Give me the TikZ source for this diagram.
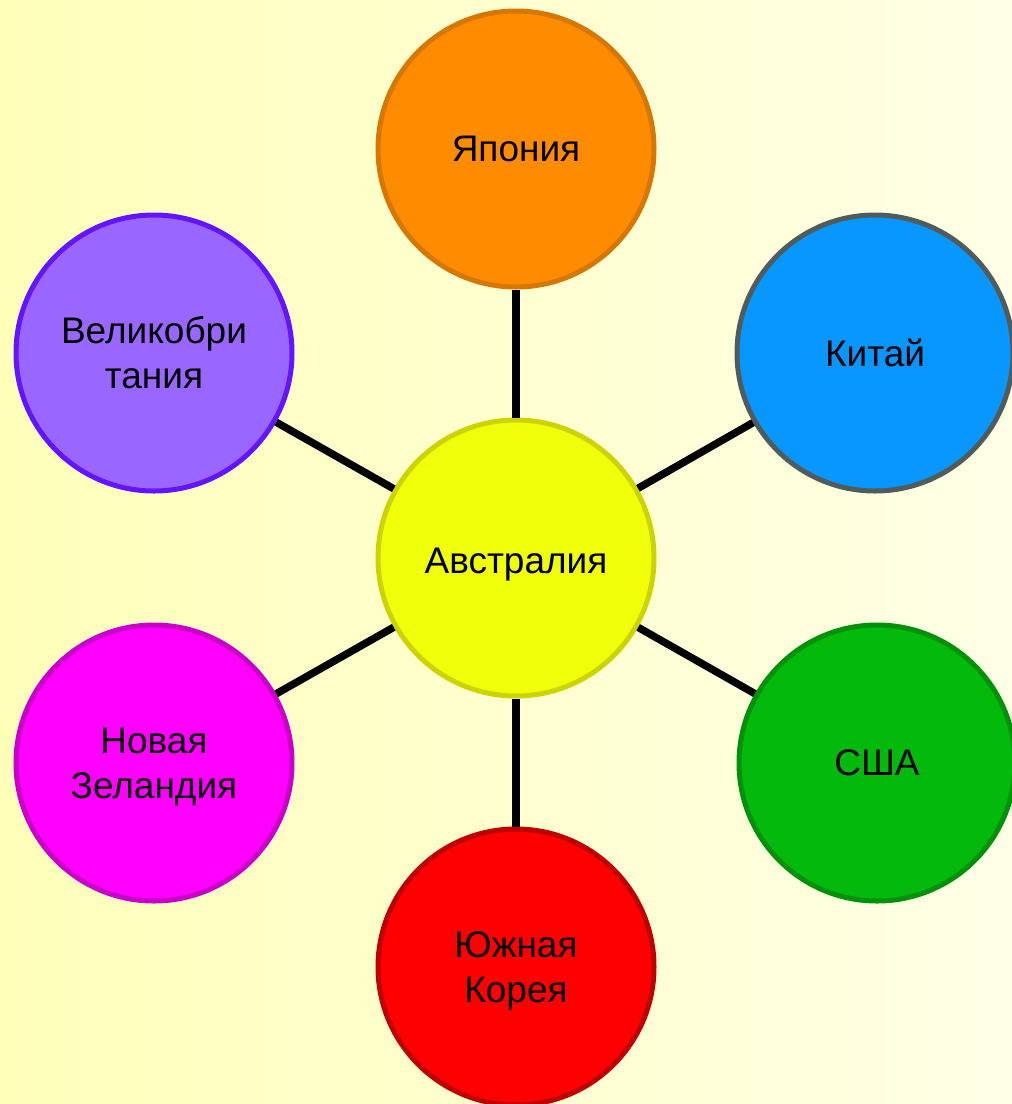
\documentclass[tikz,border=0pt]{standalone}
\usepackage{fontspec}
\setmainfont{Liberation Sans}
\begin{document}
\begin{tikzpicture}[x=1pt,y=-1pt,
  country/.style={circle, minimum size=276pt, inner sep=0pt, line width=5pt,
    align=center, text=black, font=\fontsize{37}{45}\selectfont},
  link/.style={line width=7.5pt, draw=black}]
\definecolor{bgL}{RGB}{255,255,186}
\definecolor{bgR}{RGB}{255,255,230}
\definecolor{jpF}{RGB}{255,140,0}\definecolor{jpD}{RGB}{214,120,0}
\definecolor{cnF}{RGB}{8,150,255}\definecolor{cnD}{RGB}{80,92,92}
\definecolor{ukF}{RGB}{153,102,255}\definecolor{ukD}{RGB}{100,20,255}
\definecolor{auF}{RGB}{240,255,10}\definecolor{auD}{RGB}{204,212,0}
\definecolor{nzF}{RGB}{255,0,255}\definecolor{nzD}{RGB}{200,0,200}
\definecolor{usF}{RGB}{2,185,12}\definecolor{usD}{RGB}{0,145,10}
\definecolor{krF}{RGB}{255,0,0}\definecolor{krD}{RGB}{190,0,0}
\useasboundingbox (0,0) rectangle (1012,1104);
\shade[left color=bgL, right color=bgR] (0,0) rectangle (1012,1104);
\node[country, fill=auF, draw=auD, text height=38pt] (au) at (516,558) {Австралия};
\node[country, fill=jpF, draw=jpD] (jp) at (516,149) {Япония};
\node[country, fill=cnF, draw=cnD] (cn) at (875,353) {Китай};
\node[country, fill=usF, draw=usD] (us) at (877,763) {США};
\node[country, fill=krF, draw=krD, text height=78pt] (kr) at (516,967) {Южная\\Корея};
\node[country, fill=nzF, draw=nzD, text height=78pt] (nz) at (154,763) {Новая\\Зеландия};
\node[country, fill=ukF, draw=ukD] (uk) at (154,353) {Великобри\\тания};
\foreach \n in {jp,cn,us,kr,nz,uk} \draw[link] (au) -- (\n);
\end{tikzpicture}
\end{document}
